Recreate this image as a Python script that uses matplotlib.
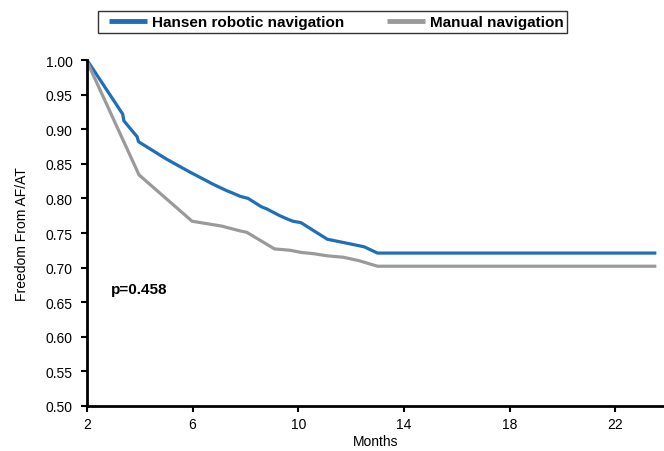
import matplotlib
matplotlib.use("Agg")
import matplotlib.pyplot as plt
from matplotlib.legend_handler import HandlerLine2D

plt.rcParams['font.family'] = ['Liberation Sans', 'DejaVu Sans']

hansen_months = [2, 3.35, 3.4, 3.9, 3.95, 5.0, 5.9, 6.6, 6.8, 7.3, 7.5, 7.8, 8.1, 8.6, 8.8,
                 9.3, 9.6, 9.8, 10.1, 11.1, 12.0, 12.5, 13.0, 23.5]
hansen_vals = [1.0, 0.922, 0.912, 0.889, 0.882, 0.857, 0.838, 0.824, 0.820, 0.811, 0.808,
               0.803, 0.800, 0.788, 0.785, 0.775, 0.770, 0.767, 0.765, 0.741, 0.734, 0.73,
               0.721, 0.721]
manual_months = [2, 3.97, 5.98, 7.1, 7.8, 8.05, 9.1, 9.7, 10.1, 10.6, 11.1, 11.7, 12.3, 13.0, 23.5]
manual_vals = [0.998, 0.834, 0.767, 0.760, 0.753, 0.751, 0.727, 0.725, 0.722, 0.72, 0.717,
               0.715, 0.71, 0.702, 0.702]
x_ticks = [2, 6, 10, 14, 18, 22]
y_ticks = [0.50, 0.55, 0.60, 0.65, 0.70, 0.75, 0.80, 0.85, 0.90, 0.95, 1.00]


class OffsetLineHandler(HandlerLine2D):
    def get_xdata(self, legend, xdescent, ydescent, width, height, fontsize):
        xdata, xdata_marker = super().get_xdata(legend, xdescent, ydescent, width, height, fontsize)
        start = -xdescent + 0.155 * width
        return [start, -xdescent + width], xdata_marker


fig = plt.figure(figsize=(6.64, 4.52), dpi=100)
ax = fig.add_axes([0.131, 0.0996, 0.869, 0.7654])

l1, = ax.plot(hansen_months, hansen_vals, color='#1c6fb8', lw=2.3, label='Hansen robotic navigation')
l2, = ax.plot(manual_months, manual_vals, color='#9a9a9a', lw=2.3, label='Manual navigation')

ax.set_xlim(2, 23.85)
ax.set_ylim(0.5, 1.0)
ax.set_xticks(x_ticks)
ax.set_yticks(y_ticks)
ax.set_yticklabels([f"{v:.2f}" for v in y_ticks])
ax.tick_params(direction='out', length=4.5, width=1.5, labelsize=10, colors='black')
ax.tick_params(axis='y', pad=6)
for s in ['top', 'right']:
    ax.spines[s].set_visible(False)
for s in ['left', 'bottom']:
    ax.spines[s].set_linewidth(2)
    ax.spines[s].set_clip_on(False)

ax.set_xlabel('Months', fontsize=10, labelpad=2)
ax.set_ylabel('Freedom From AF/AT', fontsize=10, labelpad=12)

ax.text(2.9, 0.669, 'p=0.458', fontsize=11, fontweight='bold', va='center')

leg = fig.legend(handles=[l1, l2], loc='upper left', bbox_to_anchor=(0.148, 0.973), ncol=2,
                 frameon=True, fancybox=False, edgecolor='black', handlelength=2.95,
                 handletextpad=0.3, columnspacing=2.35, borderpad=0.25, borderaxespad=0,
                 prop={'weight': 'bold', 'size': 11},
                 handler_map={l1: OffsetLineHandler(), l2: OffsetLineHandler()})
leg.get_frame().set_linewidth(1.0)
for line in leg.get_lines():
    line.set_linewidth(3.5)
    line.set_solid_capstyle('butt')

fig.savefig('out.png', dpi=100)
